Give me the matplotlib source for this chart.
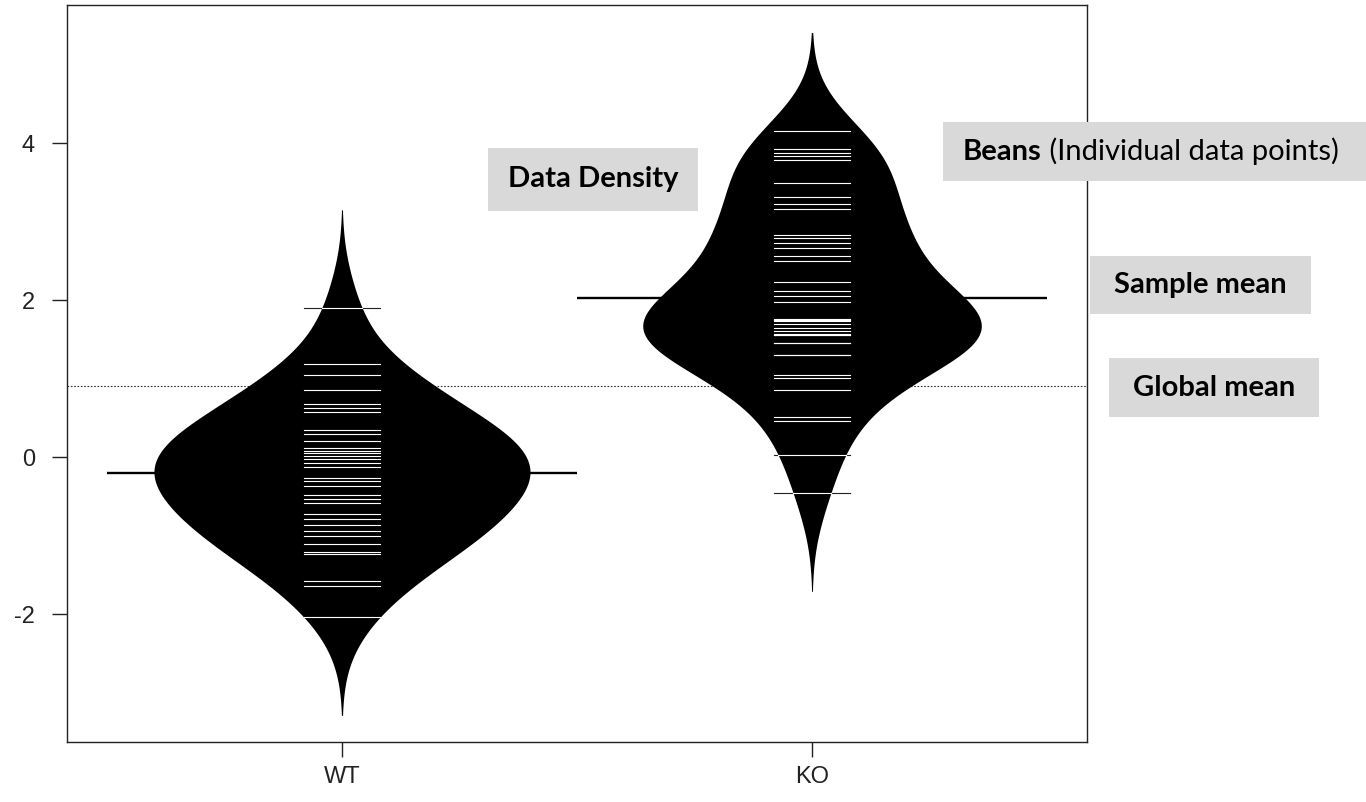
import numpy as np
import matplotlib.pyplot as plt
from matplotlib.patches import Rectangle

groups = ["WT", "KO"]
wt_values = [1.90, 1.18, 1.05, 0.85, 0.68, 0.63, 0.57, 0.34, 0.29, 0.21, 0.12, 0.08,
             0.05, 0.01, -0.03, -0.07, -0.13, -0.27, -0.31, -0.37, -0.48, -0.53,
             -0.58, -0.72, -0.79, -0.86, -0.94, -1.00, -1.11, -1.21, -1.24, -1.58,
             -1.64, -2.04]
ko_values = [4.16, 3.93, 3.87, 3.83, 3.78, 3.49, 3.32, 3.22, 3.16, 2.83, 2.79, 2.73,
             2.67, 2.56, 2.50, 2.23, 2.12, 2.05, 1.98, 1.76, 1.75, 1.75, 1.74, 1.69,
             1.65, 1.61, 1.57, 1.55, 1.55, 1.45, 1.45, 1.30, 1.30, 1.05, 1.01, 0.86,
             0.51, 0.46, 0.03, -0.46]
group_means = [-0.20, 2.03]
global_mean = 0.91
yticks = [-2, 0, 2, 4]

# annotation boxes: (bold text, normal text, box in figure pixels x0, y0, x1, y1)
notes = [
    ("Data Density", "", (488, 148, 698, 211)),
    ("Beans", " (Individual data points)", (943, 122, 1366, 181)),
    ("Sample mean", "", (1090, 256, 1311, 314)),
    ("Global mean", "", (1109, 358, 1319, 417)),
]

BW = 0.5           # kernel bandwidth
CUT = 2.5          # tails reach CUT * BW beyond the data
MAXW = 0.4         # half of beanplot maxwidth
LL = 0.08          # half length of a beanline
W, H = 1366, 802

plt.rcParams['font.family'] = ['Liberation Sans', 'DejaVu Sans']

fig = plt.figure(figsize=(W / 100, H / 100), dpi=100)
ax = fig.add_axes([67 / W, 60 / H, 1020 / W, 737 / H])


def kde(vals, grid):
    v = np.asarray(vals)[:, None]
    z = (grid[None, :] - v) / BW
    return np.exp(-0.5 * z ** 2).sum(axis=0) / (len(vals) * BW * np.sqrt(2 * np.pi))


dens = []
for vals in [wt_values, ko_values]:
    g = np.linspace(min(vals) - CUT * BW, max(vals) + CUT * BW, 600)
    dens.append((g, kde(vals, g)))
dmax = max(d.max() for _, d in dens)

for i, (vals, (g, d)) in enumerate(zip([wt_values, ko_values], dens)):
    x = i + 1
    hw = d / dmax * MAXW
    ax.fill_betweenx(g, x - hw, x + hw, color="black", lw=0, zorder=2)
    # beanlines: dark outside the bean, white inside
    for v in vals:
        w = np.interp(v, g, hw)
        ax.plot([x - LL, x + LL], [v, v], color="#222222", lw=0.8, zorder=3)
        inner = min(w, LL)
        ax.plot([x - inner, x + inner], [v, v], color="white", lw=0.8, zorder=4)
    ax.plot([x - 0.5, x + 0.5], [group_means[i]] * 2, color="black", lw=1.7,
            zorder=1, solid_capstyle="butt")

ax.axhline(global_mean, color="#333333", lw=0.8, ls=(0, (1.5, 1.5)), zorder=1)

ax.set_xlim(0.415, 2.585)
ax.set_ylim(-3.63, 5.76)
ax.set_xticks([1, 2])
ax.set_xticklabels(groups)
ax.set_yticks(yticks)
ax.set_yticklabels([str(t) for t in yticks])
ax.tick_params(direction="out", length=11, width=1, color="#222222",
               labelsize=17, labelcolor="#222222")
ax.tick_params(axis="y", pad=12)
ax.tick_params(axis="x", pad=6)
for s in ax.spines.values():
    s.set_linewidth(1.0)
    s.set_color("#222222")

for bold, normal, (x0, y0, x1, y1) in notes:
    fig.add_artist(Rectangle((x0 / W, 1 - y1 / H), (x1 - x0) / W, (y1 - y0) / H,
                             transform=fig.transFigure, facecolor="#d9d9d9",
                             edgecolor="none", zorder=5))
    cy = 1 - (y0 + y1) / 2 / H
    if normal:
        t = fig.text(963 / W, cy, bold, fontsize=21, fontweight="bold",
                     family="Lato", ha="left", va="center", zorder=6)
        fig.canvas.draw()
        bb = t.get_window_extent()
        fig.text(bb.x1 / W, cy, normal, fontsize=21, family="Lato",
                 ha="left", va="center", zorder=6)
    else:
        fig.text((x0 + x1) / 2 / W, cy, bold, fontsize=21, fontweight="bold",
                 family="Lato", ha="center", va="center", zorder=6)

fig.savefig("out.png", dpi=100)
